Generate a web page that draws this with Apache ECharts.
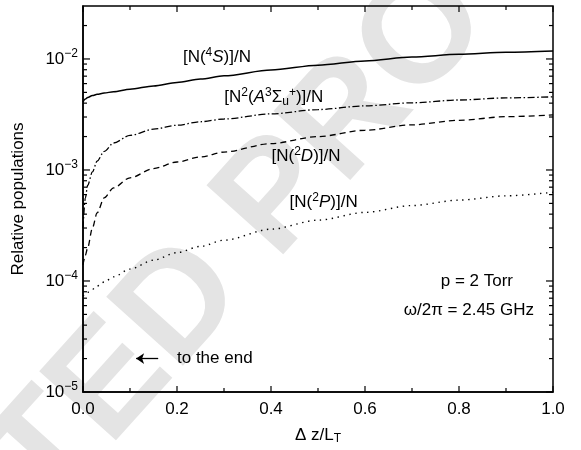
<!DOCTYPE html>
<html>
<head>
<meta charset="utf-8">
<script src="https://cdn.jsdelivr.net/npm/echarts@6/dist/echarts.min.js"></script>
<style>
html, body { margin: 0; padding: 0; background: #fff; }
#chart { width: 581px; height: 450px; }
</style>
</head>
<body>
<div id="chart"></div>
<script>
// distance along the discharge, dz/L_T
const zPos = [0, 0.005, 0.01, 0.02, 0.03, 0.045, 0.065, 0.1, 0.15, 0.2, 0.25, 0.3, 0.4, 0.5, 0.6, 0.7, 0.8, 0.9, 1.0]
// relative populations
const n4S = [4.1e-3, 4.35e-3, 4.5e-3, 4.68e-3, 4.8e-3, 4.93e-3, 5.07e-3, 5.33e-3, 5.72e-3, 6.15e-3, 6.6e-3, 7.05e-3, 7.95e-3, 8.8e-3, 9.6e-3, 1.04e-2, 1.1e-2, 1.15e-2, 1.18e-2]
const nA3 = [3.0e-4, 5.6e-4, 7.3e-4, 9.6e-4, 1.2e-3, 1.47e-3, 1.75e-3, 2.05e-3, 2.33e-3, 2.53e-3, 2.72e-3, 2.88e-3, 3.2e-3, 3.5e-3, 3.78e-3, 4.03e-3, 4.27e-3, 4.46e-3, 4.56e-3]
const n2D = [1.4e-4, 1.7e-4, 2.0e-4, 3.0e-4, 4.1e-4, 5.6e-4, 6.9e-4, 8.5e-4, 1.03e-3, 1.18e-3, 1.31e-3, 1.45e-3, 1.73e-3, 2.0e-3, 2.28e-3, 2.55e-3, 2.8e-3, 3.02e-3, 3.13e-3]
const n2P = [7.3e-5, 7.6e-5, 7.9e-5, 8.4e-5, 9.0e-5, 9.8e-5, 1.09e-4, 1.28e-4, 1.54e-4, 1.8e-4, 2.05e-4, 2.33e-4, 2.93e-4, 3.53e-4, 4.15e-4, 4.78e-4, 5.35e-4, 5.85e-4, 6.3e-4]
// axis ranges and tick values
const xMajor = [0, 0.2, 0.4, 0.6, 0.8, 1.0]
const xMinor = [0.1, 0.3, 0.5, 0.7, 0.9]
const yMin = 1e-5
const yMax = 3e-2
const yMajor = [1e-5, 1e-4, 1e-3, 1e-2]
const yMinor = [2, 3, 4, 5, 6, 7, 8, 9, 20, 30, 40, 50, 60, 70, 80, 90, 200, 300, 400, 500, 600, 700, 800, 900, 2000].map(v => v * 1e-5)

const FONT = 'Liberation Sans'
const rich = {
  t: { fontFamily: FONT, fontSize: 17, color: '#000' },
  i: { fontFamily: FONT, fontSize: 17, fontStyle: 'italic', color: '#000' },
  sp: { fontFamily: FONT, fontSize: 12, color: '#000', padding: [0, 0, 9, 0] },
  sb: { fontFamily: FONT, fontSize: 12, color: '#000', padding: [8, 0, 0, 0] }
}

const chart = echarts.init(document.getElementById('chart'))

function pairs(ys) {
  return zPos.map((x, i) => [x, ys[i]])
}

function note(coord, text, align) {
  return {
    coord: coord,
    value: 0,
    label: { formatter: text, align: align || 'center' }
  }
}

const frame = { show: true, lineStyle: { color: '#000', width: 1.5 } }
const lineBase = { type: 'line', showSymbol: false, symbol: 'none', smooth: 0.3, smoothMonotone: 'x', color: '#000', z: 3 }

const watermark = {
  type: 'text',
  x: 20,
  y: 485,
  rotation: Math.PI * 48 / 180,
  z: -10,
  silent: true,
  style: {
    text: 'UNCORRECTED PROOF',
    font: 'bold 150px "Liberation Sans"',
    fill: '#e4e4e4',
    align: 'center',
    verticalAlign: 'middle'
  }
}

const option = {
  animation: false,
  grid: { left: 83, right: 28, top: 6, bottom: 53, show: true, borderColor: '#000', borderWidth: 1.5, backgroundColor: 'transparent' },
  graphic: [watermark],
  xAxis: {
    type: 'value', min: 0, max: 1, interval: 0.2,
    axisLine: frame,
    axisTick: { show: false },
    splitLine: { show: false },
    axisLabel: { fontFamily: FONT, fontSize: 17, color: '#000', margin: 9, formatter: v => v.toFixed(1) },
    name: '{t|Δ z/L}{sb|T}',
    nameLocation: 'middle',
    nameGap: 33,
    nameTextStyle: { rich: rich }
  },
  yAxis: {
    type: 'log',
    min: yMin,
    max: yMax,
    axisLine: frame,
    axisTick: { show: false },
    splitLine: { show: false },
    axisLabel: {
      margin: 5,
      showMaxLabel: false,
      formatter: v => '{b|10}{e|' + String(Math.round(Math.log10(v))).replace('-', '−') + '}',
      rich: {
        b: { fontFamily: FONT, fontSize: 17, color: '#000' },
        e: { fontFamily: FONT, fontSize: 12, color: '#000', padding: [0, 0, 10, 0] }
      }
    },
    name: 'Relative populations',
    nameLocation: 'middle',
    nameGap: 56,
    nameTextStyle: { fontFamily: FONT, fontSize: 17, color: '#000' }
  },
  series: [
    Object.assign({}, lineBase, {
      name: 'N4S',
      data: pairs(n4S),
      lineStyle: { color: '#000', width: 1.5, type: 'solid' },
      markPoint: {
        symbol: 'rect', symbolSize: 0, silent: true,
        label: { show: true, position: 'inside', rich: rich },
        data: [
          note([0.285, 1.04e-2], '{t|[N(}{sp|4}{i|S}{t|)]/N}'),
          note([0.838, 1.0e-4], '{t|p = 2 Torr}'),
          note([0.821, 5.4e-5], '{t|ω/2π = 2.45 GHz}'),
          note([0.2, 2.0e-5], '{t|to the end}', 'left')
        ]
      },
      markLine: {
        silent: true,
        symbol: ['none', 'arrow'],
        symbolSize: 8,
        label: { show: false },
        lineStyle: { color: '#000', width: 1.3, type: 'solid' },
        data: [[{ coord: [0.16, 2.0e-5] }, { coord: [0.113, 2.0e-5] }]]
      }
    }),
    Object.assign({}, lineBase, {
      name: 'NA3',
      data: pairs(nA3),
      lineStyle: { color: '#000', width: 1.3, type: [7, 2.5, 1.5, 2.5] },
      markPoint: {
        symbol: 'rect', symbolSize: 0, silent: true,
        label: { show: true, position: 'inside', rich: rich },
        data: [note([0.406, 4.5e-3], '{t|[N}{sp|2}{t|(}{i|A}{sp|3}{t|Σ}{sb|u}{sp|+}{t|)]/N}')]
      }
    }),
    Object.assign({}, lineBase, {
      name: 'N2D',
      data: pairs(n2D),
      lineStyle: { color: '#000', width: 1.3, type: [6, 4] },
      markPoint: {
        symbol: 'rect', symbolSize: 0, silent: true,
        label: { show: true, position: 'inside', rich: rich },
        data: [note([0.4745, 1.34e-3], '{t|[N(}{sp|2}{i|D}{t|)]/N}')]
      }
    }),
    Object.assign({}, lineBase, {
      name: 'N2P',
      data: pairs(n2P),
      lineStyle: { color: '#000', width: 1.4, type: [1.4, 4.6] },
      markPoint: {
        symbol: 'rect', symbolSize: 0, silent: true,
        label: { show: true, position: 'inside', rich: rich },
        data: [note([0.512, 5.13e-4], '{t|[N(}{sp|2}{i|P}{t|)]/N}')]
      }
    })
  ]
}

chart.setOption(option)

// inward ticks on all four sides, positioned through the chart's own scales
const toPx = p => chart.convertToPixel({ gridIndex: 0 }, p)
function tick(x1, y1, x2, y2) {
  return { type: 'line', silent: true, z: 20, shape: { x1: x1, y1: y1, x2: x2, y2: y2 }, style: { stroke: '#000', lineWidth: 1.2 } }
}
const ticks = []
xMajor.map(v => [v, 6]).concat(xMinor.map(v => [v, 4])).forEach(([v, len]) => {
  const lo = toPx([v, yMin])
  const hi = toPx([v, yMax])
  ticks.push(tick(lo[0], lo[1], lo[0], lo[1] - len))
  ticks.push(tick(hi[0], hi[1], hi[0], hi[1] + len))
})
yMajor.map(v => [v, 7]).concat(yMinor.map(v => [v, 4])).forEach(([v, len]) => {
  const l = toPx([0, v])
  const r = toPx([1, v])
  ticks.push(tick(l[0], l[1], l[0] + len, l[1]))
  ticks.push(tick(r[0], r[1], r[0] - len, r[1]))
})
chart.setOption({ graphic: [watermark].concat(ticks) })
</script>
</body>
</html>
